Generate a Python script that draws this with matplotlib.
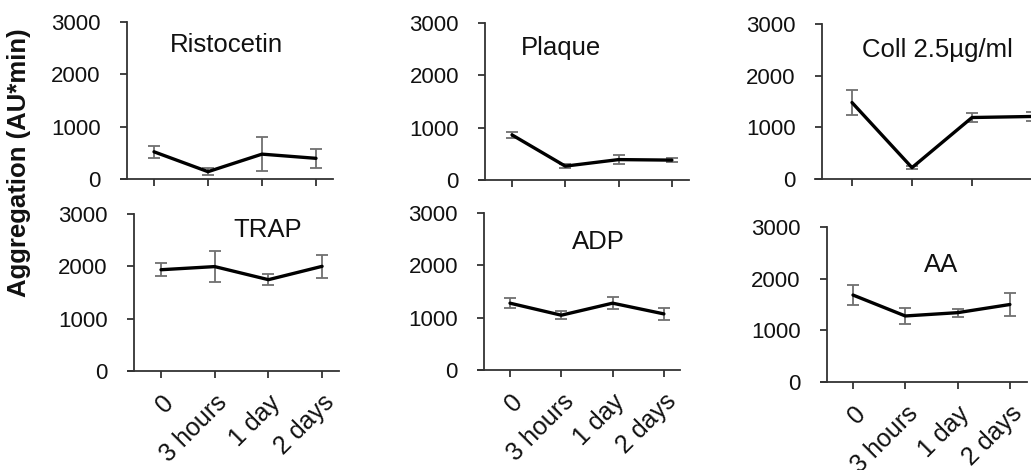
import matplotlib
matplotlib.use("Agg")
import matplotlib.pyplot as plt

plt.rcParams['font.family'] = ['Liberation Sans', 'DejaVu Sans']

categories = ["0", "3 hours", "1 day", "2 days"]

titles = ["Ristocetin", "Plaque", "Coll 2.5µg/ml", "TRAP", "ADP", "AA"]

ristocetin_mean = [520, 140, 475, 395]
ristocetin_err = [120, 70, 320, 185]
plaque_mean = [862, 265, 390, 380]
plaque_err = [60, 40, 80, 35]
coll_mean = [1480, 220, 1190, 1210]
coll_err = [235, 30, 80, 90]
trap_mean = [1935, 1995, 1745, 2000]
trap_err = [128, 297, 105, 220]
adp_mean = [1277, 1047, 1277, 1072]
adp_err = [95, 75, 110, 110]
aa_mean = [1683, 1278, 1342, 1500]
aa_err = [200, 150, 75, 220]

means = [ristocetin_mean, plaque_mean, coll_mean, trap_mean, adp_mean, aa_mean]
errs = [ristocetin_err, plaque_err, coll_err, trap_err, adp_err, aa_err]

# layout: (first tick px, tick spacing px, top px, bottom px)
W, H = 1031, 470
layout = [
    (154, 54.0, 22, 179),
    (512, 53.3, 23, 180),
    (852, 60.0, 24, 179),
    (161, 53.7, 214, 371),
    (510, 51.3, 213, 370),
    (853, 52.3, 227, 382),
]
title_pos = [(1.35, 2560), (0.92, 2520), (1.43, 2500),
             (1.98, 2690), (1.73, 2450), (1.68, 2265)]

XL, XR = -0.62, 3.32
fig = plt.figure(figsize=(W / 100, H / 100), dpi=100)
spine_col = '#333333'
x = list(range(len(categories)))
for i in range(6):
    t0, s, top, bot = layout[i]
    left = t0 + XL * s
    width = (XR - XL) * s
    ax = fig.add_axes([left / W, (H - bot) / H, width / W, (bot - top) / H])
    ax.errorbar(x, means[i], yerr=errs[i], fmt='none', ecolor='#707070',
                elinewidth=1.3, capsize=4, capthick=1.3, zorder=2)
    ax.plot(x, means[i], color='black', lw=2.4, zorder=3, solid_capstyle='round')
    ax.set_xlim(XL, XR)
    ax.set_ylim(0, 3000)
    ax.set_yticks([0, 1000, 2000, 3000])
    ax.set_xticks(x)
    ax.spines['top'].set_visible(False)
    ax.spines['right'].set_visible(False)
    ax.spines['left'].set_position(('data', -0.5))
    ax.spines['left'].set_bounds(0, 3000)
    for sp in ('left', 'bottom'):
        ax.spines[sp].set_color(spine_col)
        ax.spines[sp].set_linewidth(1.3)
    ax.tick_params(axis='both', direction='out', length=5, width=1.3,
                   color=spine_col, labelsize=16, labelcolor='#111111')
    ax.tick_params(axis='y', pad=14)
    if i >= 3:
        ax.set_xticklabels(categories, rotation=45, ha='right', va='top',
                           rotation_mode='anchor', fontsize=18)
        ax.tick_params(axis='x', pad=9)
    else:
        ax.set_xticklabels([])
    ax.text(title_pos[i][0], title_pos[i][1], titles[i], fontsize=18.5,
            ha='center', va='center', color='#111111')
    ax.patch.set_visible(False)

fig.text(19 / W, 1 - 163 / H, "Aggregation (AU*min)", rotation=90,
         fontsize=18.5, fontweight='bold', ha='center', va='center',
         color='#111111')

fig.savefig("out.png", dpi=100)
